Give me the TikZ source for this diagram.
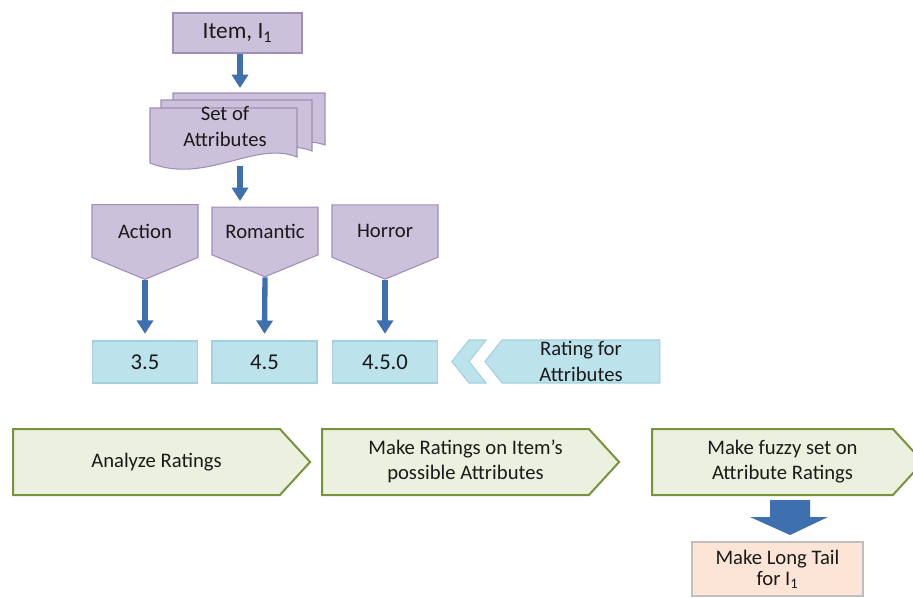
\documentclass[tikz,border=0pt]{standalone}
\usepackage{fontspec}
\setmainfont{Carlito}
\usetikzlibrary{arrows.meta,shapes.symbols}
\definecolor{lav}{HTML}{CCC1DA}
\definecolor{lavline}{HTML}{A08DBA}
\definecolor{aqua}{HTML}{BCE2EC}
\definecolor{aqualine}{HTML}{A3D0DC}
\definecolor{leaf}{HTML}{EBF1DE}
\definecolor{leafline}{HTML}{77933C}
\definecolor{peach}{HTML}{FCE5D7}
\definecolor{arrblue}{HTML}{3E6FAE}
\definecolor{ink}{HTML}{1A1A1A}
% text of a step bar sits a bit right of the body centre
\newcommand{\steptext}[1]{\hspace*{15pt}\begin{tabular}{@{}c@{}}#1\end{tabular}}

\begin{document}
\begin{tikzpicture}[x=0.75pt,y=0.75pt,yscale=-1,xscale=1,
  every node/.style={font=\fontsize{15.5}{19}\selectfont, text=ink, align=center, inner sep=0pt},
  lavbox/.style={draw=lavline, fill=lav, line width=0.8pt},
  offpage/.style={lavbox, shape=signal, signal to=south, signal pointer angle=135,
    minimum width=79.5pt, minimum height=48pt},
  valbox/.style={draw=aqualine, fill=aqua, line width=0.8pt, minimum width=78.75pt, minimum height=31.5pt,
    font=\fontsize{17}{19}\selectfont},
  stepbar/.style={draw=leafline, fill=leaf, line width=1.5pt, shape=signal, signal to=east,
    signal pointer angle=95, minimum height=49.5pt},
  flowarr/.style={draw=arrblue, line width=4pt, -{Triangle[width=12pt,length=10pt]}}]
\useasboundingbox (0,0) rectangle (913,597);
\clip (0,0) rectangle (913,597);

% item
\node (item) at (237.5,33) [lavbox, minimum width=96.75pt, minimum height=30pt,
  font=\fontsize{17.5}{19}\selectfont] {Item, I\textsubscript{1}};

% set of attributes (three pages)
\draw [lavbox] (173,93) -- (325,93) -- (325,145) .. controls (290,132) and (230,165) .. (173,148) -- cycle;
\draw [lavbox] (161,100) -- (312,100) -- (312,151) .. controls (275,136) and (215,172) .. (161,156) -- cycle;
\draw [lavbox] (150,108) -- (297,108) -- (297,157) .. controls (255,140) and (205,185) .. (150,163) -- cycle;
\node (attrs) at (225,126.5) {Set of\\Attributes};
\coordinate (attrtop) at (240,88);
\coordinate (attrbot) at (240,166);

% genres
\node (action) at (145,231) [offpage] {Action};
\node (romantic) at (265,231) [offpage] {Romantic};
\node (horror) at (385,231) [offpage] {Horror};

% ratings
\node (r1) at (145,362) [valbox] {3.5};
\node (r2) at (264.5,362) [valbox] {4.5};
\node (r3) at (385,362) [valbox] {4.5.0};
\node (chev) at (469,361.5) [draw=aqualine, fill=aqua, line width=0.8pt, shape=signal, signal to=west,
  signal from=east, signal pointer angle=103, minimum width=15.75pt, minimum height=32.25pt] {};
\node (rating) at (581,361.5) [draw=aqualine, fill=aqua, line width=0.8pt, shape=signal, signal to=west,
  signal pointer angle=103, minimum width=131.25pt, minimum height=32.25pt] {Rating for\\Attributes};

% steps
\node (analyze) at (146.5,462) [stepbar, minimum width=222.75pt] {\steptext{Analyze Ratings}};
\node (make) at (455.5,462) [stepbar, minimum width=222.75pt] {\steptext{Make Ratings on Item's\\possible Attributes}};
\node (fuzzy) at (772.5,462) [stepbar, minimum width=203.25pt] {\steptext{Make fuzzy set on\\Attribute Ratings}};
\node (tail) at (777.5,569) [draw=black!25, fill=peach, line width=0.8pt, minimum width=128.25pt,
  minimum height=40.5pt] {Make Long Tail\\[-3pt]for I\textsubscript{1}};

% arrows
\draw [flowarr] (item.south -| attrtop) -- (attrtop);
\draw [flowarr] (attrbot) -- (240,201);
\draw [flowarr] (action.south) -- ([yshift=-5pt]r1.north);
\draw [flowarr] (romantic.south) -- ([yshift=-5pt]r2.north);
\draw [flowarr] (horror.south) -- ([yshift=-5pt]r3.north);
\fill [arrblue] (770,500) -- (810,500) -- (810,517) -- (828,517) -- (790,535) -- (750,517) -- (770,517) -- cycle;

\end{tikzpicture}
\end{document}
